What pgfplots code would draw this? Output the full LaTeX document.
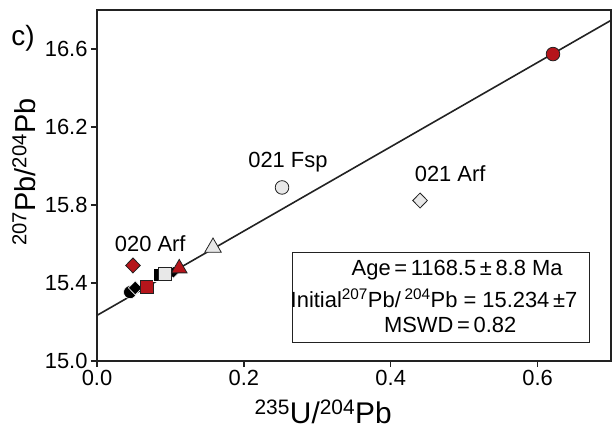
\documentclass[border=0pt]{standalone}
\usepackage{fontspec}
\setmainfont{Liberation Sans}
\usepackage{pgfplots}
\pgfplotsset{compat=1.18}
\definecolor{arfred}{HTML}{B5151B}
\definecolor{opengray}{HTML}{E8E8E8}
\definecolor{edge}{HTML}{222222}
\newcommand{\tickfont}{\fontsize{22}{24}\selectfont}
\newcommand{\annfont}{\fontsize{22}{24}\selectfont}
\newcommand{\labfont}{\fontsize{30}{32}\selectfont}

\begin{document}
\begin{tikzpicture}
\begin{axis}[
    scale only axis,
    width=514bp, height=351bp,
    xmin=0, xmax=0.7,
    ymin=15.0, ymax=16.8,
    xtick={0,0.2,0.4,0.6},
    ytick={15.0,15.4,15.8,16.2,16.6},
    tick pos=left,
    tick align=outside,
    major tick length=6bp,
    axis line style={draw=edge, line width=1.6bp},
    every tick/.style={draw=edge, line width=1.4bp},
    ticklabel style={font=\tickfont},
    /pgf/number format/assume math mode=true,
    xticklabel style={/pgf/number format/.cd, fixed, fixed zerofill, precision=1},
    yticklabel style={/pgf/number format/.cd, fixed, fixed zerofill, precision=1},
    xlabel={\textsuperscript{235}U/\textsuperscript{204}Pb},
    xlabel style={font=\labfont, at={(axis description cs:0.44,-0.145)}, anchor=center},
    clip=false,
]

% isochron
\addplot[edge, line width=1.6bp] coordinates {(0,15.234) (0.7,16.747)};

% data points
\addplot[only marks, mark=*, mark size=6.5bp, mark options={fill=black, draw=white, line width=0.6bp}]
    coordinates {(0.045,15.353)};
\addplot[only marks, mark=diamond*, mark size=7bp, mark options={xscale=1.3, fill=black, draw=white, line width=0.6bp}]
    coordinates {(0.052,15.375)};
\addplot[only marks, mark=square*, mark size=6.5bp, mark options={fill=arfred, draw=edge, line width=0.8bp}]
    coordinates {(0.068,15.378)};
\addplot[only marks, mark=diamond*, mark size=7.5bp, mark options={xscale=1.3, fill=arfred, draw=edge, line width=0.8bp}]
    coordinates {(0.049,15.490)};
\addplot[only marks, mark=square*, mark size=6.5bp, mark options={fill=black, draw=white, line width=0.6bp}]
    coordinates {(0.086,15.442)};
\addplot[only marks, mark=diamond*, mark size=6bp, mark options={xscale=1.3, fill=black, draw=white, line width=0.6bp}]
    coordinates {(0.104,15.455)};
\addplot[only marks, mark=square*, mark size=6.5bp, mark options={fill=opengray, draw=edge, line width=0.8bp}]
    coordinates {(0.093,15.445)};
\addplot[only marks, mark=triangle*, mark size=9bp, mark options={fill=arfred, draw=edge, line width=0.8bp}]
    coordinates {(0.112,15.475)};
\addplot[only marks, mark=triangle*, mark size=9.5bp, mark options={fill=opengray, draw=edge, line width=0.8bp}]
    coordinates {(0.158,15.582)};
\addplot[only marks, mark=*, mark size=6.8bp, mark options={fill=opengray, draw=edge, line width=0.8bp}]
    coordinates {(0.252,15.890)};
\addplot[only marks, mark=diamond*, mark size=7.5bp, mark options={xscale=1.3, fill=opengray, draw=edge, line width=0.8bp}]
    coordinates {(0.440,15.823)};
\addplot[only marks, mark=*, mark size=6.8bp, mark options={fill=arfred, draw=edge, line width=0.8bp}]
    coordinates {(0.621,16.574)};

% sample labels
\node[font=\annfont] at (axis cs:0.260,16.020) {021 Fsp};
\node[font=\annfont] at (axis cs:0.481,15.960) {021 Arf};
\node[font=\annfont] at (axis cs:0.0725,15.603) {020 Arf};

% result box
\draw[edge, line width=0.8bp, fill=white] (axis cs:0.266,15.097) rectangle (axis cs:0.670,15.557);
\node[font=\annfont] at (axis cs:0.4905,15.465) {Age\,=\,1168.5\,±\,8.8 Ma};
\node[font=\annfont] at (axis cs:0.459,15.322) {Initial\textsuperscript{207}Pb/\,\textsuperscript{204}Pb = 15.234\,±7};
\node[font=\annfont] at (axis cs:0.481,15.184) {MSWD\,=\,0.82};

% y label and panel letter
\node[font=\fontsize{29}{31}\selectfont, rotate=90] at (axis description cs:-0.142,0.538) {\textsuperscript{207}Pb/\textsuperscript{204}Pb};
\node[font=\fontsize{28}{30}\selectfont] at (axis description cs:-0.144,0.918) {c)};
\end{axis}
\pgfresetboundingbox
\path (current axis.south west) ++(-97bp,-71bp) rectangle ++(613bp,432bp);
\end{tikzpicture}
\end{document}
